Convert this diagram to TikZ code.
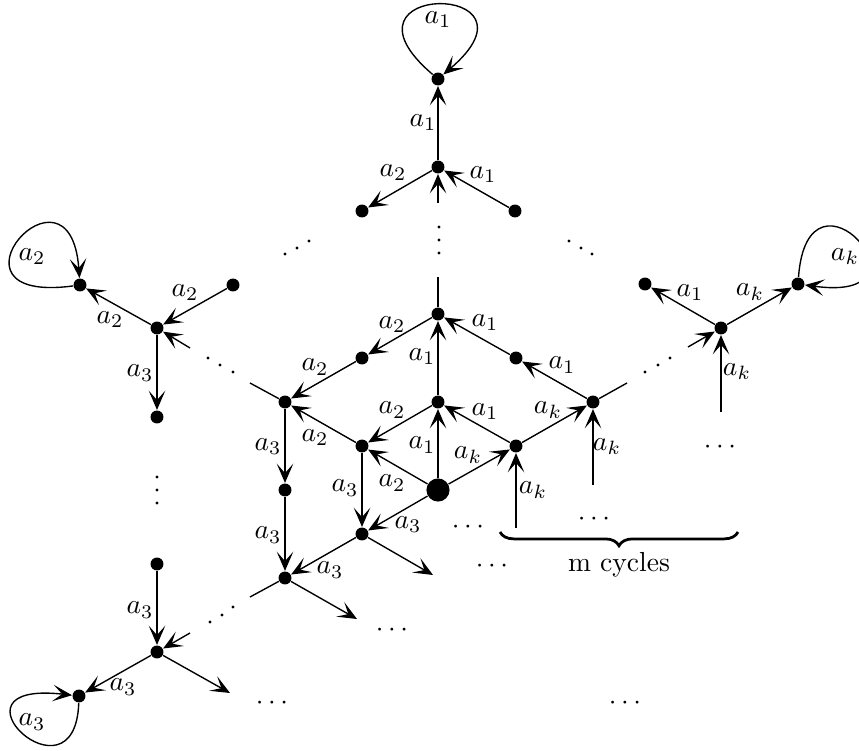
\documentclass[tikz,border=0pt]{standalone}
\usetikzlibrary{arrows.meta,decorations.pathreplacing}
\begin{document}
\begin{tikzpicture}[x=0.363pt,y=-0.363pt,
  dot/.style={circle,fill=black,inner sep=0pt,minimum size=4.7pt},
  bigdot/.style={circle,fill=black,inner sep=0pt,minimum size=8.4pt},
  pt/.style={circle,fill=black,inner sep=0pt,minimum size=1.2pt},
  arr/.style={line width=0.5pt,-{Stealth[length=7pt,width=6pt,inset=3.4pt]}},
  ln/.style={line width=0.5pt},
  lbl/.style={inner sep=0pt},
  dts/.style={inner sep=0pt}]
\useasboundingbox (0,0) rectangle (859,751);

% ---------- top cluster ----------
\node[dot] (T1) at (438,79) {};
\node[dot] (T2) at (438,167) {};
\node[dot] (TL) at (362,211) {};
\node[dot] (TR) at (515,211) {};
\coordinate (Ts) at (438,203);
\draw[arr] (T2) -- (T1);
\draw[arr] (T2) -- (TL);
\draw[arr] (TR) -- (T2);
\draw[arr] (Ts) -- (T2);
\draw[arr] (T1) .. controls +(-115,-98) and +(115,-98) .. (T1);
\node[lbl] at (438,20) {$a_1$};
\node[lbl] at (423,123) {$a_1$};
\node[lbl] at (393,173) {$a_2$};
\node[lbl] at (483,175) {$a_1$};

% ---------- left cluster ----------
\node[dot] (L1) at (80,285) {};
\node[dot] (L2) at (157,328) {};
\node[dot] (L3) at (233,285) {};
\node[dot] (L4) at (157,417) {};
\coordinate (Ls) at (190,348);
\draw[arr] (L2) -- (L1);
\draw[arr] (L3) -- (L2);
\draw[arr] (Ls) -- (L2);
\draw[arr] (L2) -- (L4);
\draw[arr] (L1) .. controls +(-150,20) and +(-10,-138) .. (L1);
\node[lbl] at (32,257) {$a_2$};
\node[lbl] at (110,320) {$a_2$};
\node[lbl] at (185,293) {$a_2$};
\node[lbl] at (140,373) {$a_3$};

% ---------- bottom-left cluster ----------
\node[dot] (B3) at (157,564) {};
\node[dot] (B2) at (157,652) {};
\node[dot] (B1) at (79,696) {};
\coordinate (Bs) at (190,633);
\coordinate (Bf) at (230,693);
\draw[arr] (B3) -- (B2);
\draw[arr] (Bs) -- (B2);
\draw[arr] (B2) -- (B1);
\draw[arr] (B2) -- (Bf);
\draw[arr] (B1) .. controls +(-4,114) and +(-142,-16) .. (B1);
\node[lbl] at (140,610) {$a_3$};
\node[lbl] at (123,687) {$a_3$};
\node[lbl] at (32,722) {$a_3$};

% ---------- right cluster ----------
\node[dot] (R) at (721,328) {};
\node[dot] (R1) at (645,284) {};
\node[dot] (R2) at (798,284) {};
\coordinate (Rs) at (688,347);
\coordinate (Rv) at (721,412);
\draw[arr] (R) -- (R1);
\draw[arr] (R) -- (R2);
\draw[arr] (Rs) -- (R);
\draw[arr] (Rv) -- (R);
\draw[arr] (R2) .. controls +(10,-135) and +(145,20) .. (R2);
\node[lbl] at (690,293) {$a_1$};
\node[lbl] at (750,292) {$a_k$};
\node[lbl] at (737,372) {$a_k$};
\node[lbl] at (845,257) {$a_k$};

% ---------- central part ----------
\node[bigdot] (C) at (438,490) {};
\node[dot] (N1) at (438,402) {};
\node[dot] (N2) at (438,314) {};
\node[dot] (U1) at (362,358) {};
\node[dot] (W) at (285,402) {};
\node[dot] (V) at (362,446) {};
\node[dot] (W2) at (285,490) {};
\node[dot] (W3) at (285,578) {};
\node[dot] (D) at (362,534) {};
\node[dot] (K1) at (516,446) {};
\node[dot] (K2) at (593,402) {};
\node[dot] (M1) at (516,358) {};
\coordinate (Nt) at (438,277);
\coordinate (Ws) at (250,383);
\coordinate (W3s) at (250,597);
\coordinate (K2s) at (627,383);
\coordinate (Df) at (433,575);
\coordinate (W3f) at (357,619);
\coordinate (K1v) at (516,528);
\coordinate (K2v) at (593,485);

\draw[arr] (C) -- (N1);
\draw[arr] (N1) -- (N2);
\draw[ln] (N2) -- (Nt);
\draw[arr] (N2) -- (U1);
\draw[arr] (U1) -- (W);
\draw[arr] (N1) -- (V);
\draw[arr] (V) -- (W);
\draw[arr] (C) -- (V);
\draw[arr] (W) -- (W2);
\draw[arr] (W2) -- (W3);
\draw[arr] (V) -- (D);
\draw[arr] (C) -- (D);
\draw[arr] (D) -- (W3);
\draw[arr] (D) -- (Df);
\draw[arr] (W3) -- (W3f);
\draw[ln] (W3) -- (W3s);
\draw[ln] (W) -- (Ws);
\draw[arr] (C) -- (K1);
\draw[arr] (K1) -- (N1);
\draw[arr] (K1) -- (K2);
\draw[arr] (K2) -- (M1);
\draw[arr] (M1) -- (N2);
\draw[arr] (K1v) -- (K1);
\draw[arr] (K2v) -- (K2);
\draw[ln] (K2) -- (K2s);

\node[lbl] at (392,325) {$a_2$};
\node[lbl] at (315,367) {$a_2$};
\node[lbl] at (422,357) {$a_1$};
\node[lbl] at (485,323) {$a_1$};
\node[lbl] at (562,365) {$a_1$};
\node[lbl] at (485,412) {$a_1$};
\node[lbl] at (548,410) {$a_k$};
\node[lbl] at (468,455) {$a_k$};
\node[lbl] at (607,447) {$a_k$};
\node[lbl] at (533,490) {$a_k$};
\node[lbl] at (392,410) {$a_2$};
\node[lbl] at (422,445) {$a_1$};
\node[lbl] at (315,438) {$a_2$};
\node[lbl] at (268,447) {$a_3$};
\node[lbl] at (392,483) {$a_2$};
\node[lbl] at (345,488) {$a_3$};
\node[lbl] at (408,525) {$a_3$};
\node[lbl] at (268,535) {$a_3$};
\node[lbl] at (330,570) {$a_3$};

% ---------- slanted and vertical dots ----------
\foreach \x/\y in {439/227,439/240,439/253,
                   285/254,297/248,309/241,
                   569/241,581/248,592/254,
                   208/358,220/365,233/372,
                   157/477,157/490,157/503,
                   210/622,222/615,233/607,
                   645/372,658/365,670/358}
  \node[pt] at (\x,\y) {};

% ---------- horizontal dots ----------
\node[dts] at (468,527) {$\cdots$};
\node[dts] at (492,566) {$\cdots$};
\node[dts] at (392,630) {$\cdots$};
\node[dts] at (594,519) {$\cdots$};
\node[dts] at (720,447) {$\cdots$};
\node[dts] at (272,703) {$\cdots$};
\node[dts] at (625,703) {$\cdots$};

% ---------- brace ----------
\coordinate (brA) at (500,532);
\coordinate (brB) at (738,532);
\draw[decorate,decoration={brace,mirror,amplitude=5pt},line width=1pt] (brA) -- (brB);
\node (mc) at (619,565) {m cycles};
\end{tikzpicture}
\end{document}
